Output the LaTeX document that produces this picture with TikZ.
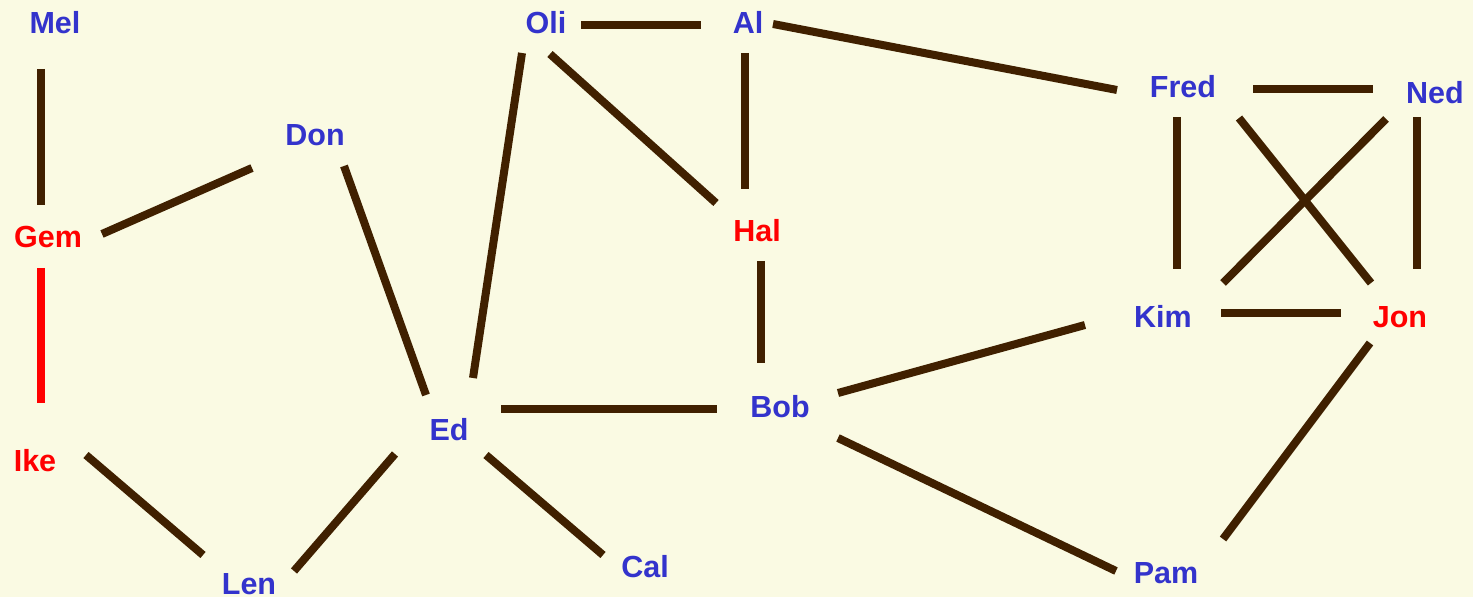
\documentclass[tikz,border=0pt]{standalone}
\usepackage{fontspec}
\setmainfont{Liberation Sans}
\usetikzlibrary{calc}
\definecolor{bgc}{RGB}{250,250,227}
\definecolor{nblue}{RGB}{51,51,204}
\definecolor{nred}{RGB}{255,0,0}
\definecolor{ebrown}{RGB}{64,32,0}
\begin{document}
\begin{tikzpicture}[x=0.5pt,y=-0.5pt,
  vtx/.style={anchor=base,inner sep=0pt,font=\fontsize{15.25}{18}\selectfont\bfseries,text=nblue},
  hot/.style={vtx,text=nred},
  link/.style={draw=ebrown,line width=4pt},
  hotlink/.style={draw=nred,line width=4pt}]
\fill[bgc] (0,0) rectangle (1473,597);
\useasboundingbox (0,0) rectangle (1473,597);
% nodes
\node[vtx] (mel) at (55,34) {Mel};
\node[hot] (gem) at (48,248) {Gem};
\node[vtx] (don) at (315,146) {Don};
\node[hot] (ike) at (35,472) {Ike};
\node[vtx] (len) at (249,595) {Len};
\node[vtx] (ed) at (449,441) {Ed};
\node[vtx] (cal) at (645,578) {Cal};
\node[vtx] (oli) at (546,34) {Oli};
\node[vtx] (al) at (748,34) {Al};
\node[hot] (hal) at (757,242) {Hal};
\node[vtx] (bob) at (780,418) {Bob};
\node[vtx] (kim) at (1163,328) {Kim};
\node[hot] (jon) at (1400,328) {Jon};
\node[vtx] (pam) at (1166,584) {Pam};
\node[vtx] (fred) at (1183,98) {Fred};
\node[vtx] (ned) at (1435,104) {Ned};
% edges
\draw[link] ($(mel.base)+(-14,35)$) -- ($(gem.base)+(-7,-43)$);
\draw[hotlink] ($(gem.base)+(-7,20)$) -- ($(ike.base)+(6,-69)$);
\draw[link] ($(gem.base)+(54,-14)$) -- ($(don.base)+(-63,22)$);
\draw[link] ($(don.base)+(29,20)$) -- ($(ed.base)+(-23,-46)$);
\draw[link] ($(ike.base)+(51,-17)$) -- ($(len.base)+(-46,-40)$);
\draw[link] ($(len.base)+(45,-24)$) -- ($(ed.base)+(-54,13)$);
\draw[link] ($(ed.base)+(24,-63)$) -- ($(oli.base)+(-24,19)$);
\draw[link] ($(ed.base)+(52,-32)$) -- ($(bob.base)+(-63,-9)$);
\draw[link] ($(ed.base)+(37,14)$) -- ($(cal.base)+(-42,-23)$);
\draw[link] ($(oli.base)+(35,-9)$) -- ($(al.base)+(-47,-9)$);
\draw[link] ($(oli.base)+(4,20)$) -- ($(hal.base)+(-41,-39)$);
\draw[link] ($(al.base)+(-3,19)$) -- ($(hal.base)+(-12,-53)$);
\draw[link] ($(al.base)+(25,-10)$) -- ($(fred.base)+(-66,-8)$);
\draw[link] ($(hal.base)+(4,19)$) -- ($(bob.base)+(-19,-55)$);
\draw[link] ($(bob.base)+(58,-25)$) -- ($(kim.base)+(-78,-3)$);
\draw[link] ($(bob.base)+(58,20)$) -- ($(pam.base)+(-50,-13)$);
\draw[link] ($(fred.base)+(70,-9)$) -- ($(ned.base)+(-62,-15)$);
\draw[link] ($(fred.base)+(-6,19)$) -- ($(kim.base)+(14,-59)$);
\draw[link] ($(fred.base)+(56,20)$) -- ($(jon.base)+(-29,-45)$);
\draw[link] ($(ned.base)+(-49,15)$) -- ($(kim.base)+(60,-45)$);
\draw[link] ($(ned.base)+(-18,13)$) -- ($(jon.base)+(17,-59)$);
\draw[link] ($(kim.base)+(58,-15)$) -- ($(jon.base)+(-59,-15)$);
\draw[link] ($(jon.base)+(-30,15)$) -- ($(pam.base)+(57,-45)$);
\end{tikzpicture}
\end{document}
